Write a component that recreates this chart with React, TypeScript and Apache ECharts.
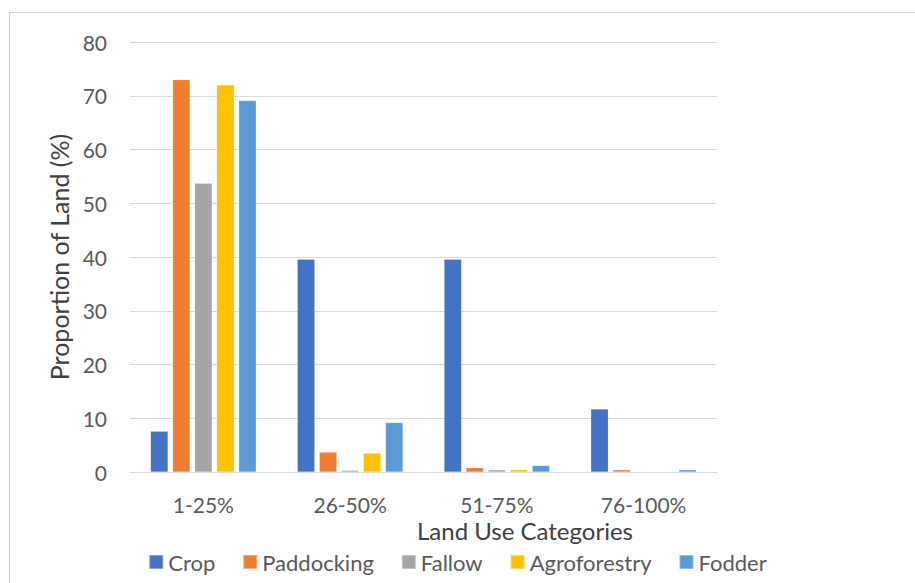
import React, { useEffect, useRef } from "react";
import * as echarts from "echarts";

// Share of each land-use type by proportion-of-land class
const categories = ["1-25%", "26-50%", "51-75%", "76-100%"];
const crop = [7.6, 39.6, 39.6, 11.7];
const paddocking = [73.0, 3.7, 0.8, 0.4];
const fallow = [53.7, 0.3, 0.4, 0];
const agroforestry = [72.0, 3.5, 0.4, 0];
const fodder = [69.1, 9.2, 1.2, 0.4];

const seriesDefs = [
  { name: "Crop", data: crop, color: "#4472C4" },
  { name: "Paddocking", data: paddocking, color: "#ED7D31" },
  { name: "Fallow", data: fallow, color: "#A5A5A5" },
  { name: "Agroforestry", data: agroforestry, color: "#FFC000" },
  { name: "Fodder", data: fodder, color: "#5B9BD5" },
];

const FONT = "Lato, 'Noto Sans', sans-serif";
const TEXT = "#595959";
const GRID = "#d9d9d9";

export default function App() {
  const ref = useRef<HTMLDivElement>(null);

  useEffect(() => {
    if (!ref.current) return;
    const chart = echarts.init(ref.current, undefined, { renderer: "svg" });
    chart.setOption({
      animation: false,
      backgroundColor: "#ffffff",
      textStyle: { fontFamily: FONT },
      grid: { left: 130, right: 198, top: 42, bottom: 111 },
      legend: {
        top: 546,
        left: "center",
        icon: "rect",
        itemWidth: 14,
        itemHeight: 14,
        itemGap: 27,
        textStyle: { fontFamily: FONT, fontSize: 22, color: TEXT },
        data: seriesDefs.map((s) => s.name),
      },
      xAxis: {
        type: "category",
        data: categories,
        axisLine: { lineStyle: { color: GRID, width: 1 } },
        axisTick: { show: false },
        axisLabel: { fontFamily: FONT, fontSize: 21, color: TEXT, margin: 22 },
      },
      yAxis: {
        type: "value",
        min: 0,
        max: 80,
        interval: 10,
        name: "Proportion of Land (%)",
        nameLocation: "middle",
        nameGap: 57,
        nameTextStyle: { fontFamily: FONT, fontSize: 25, color: "#404040" },
        axisLine: { show: false },
        axisTick: { show: false },
        splitLine: { lineStyle: { color: GRID, width: 1 } },
        axisLabel: { fontFamily: FONT, fontSize: 21, color: TEXT, margin: 23 },
      },
      graphic: [
        {
          type: "rect",
          shape: { x: 9.5, y: 12.5, width: 1000, height: 1000 },
          style: { fill: "none", stroke: "#d0d0d0", lineWidth: 1 },
          silent: true,
        },
        {
          type: "text",
          x: 525,
          y: 530,
          style: {
            text: "Land Use Categories",
            fontFamily: FONT,
            fontSize: 24,
            fill: "#404040",
            align: "center",
            verticalAlign: "middle",
          },
        },
      ],
      series: seriesDefs.map((s) => ({
        name: s.name,
        type: "bar",
        data: s.data,
        barGap: "26%",
        barCategoryGap: "28%",
        itemStyle: { color: s.color, borderColor: "rgba(255,255,255,0.35)", borderWidth: 0.5 },
      })),
    });
    return () => chart.dispose();
  }, []);

  return (
    <div
      ref={ref}
      style={{ position: "fixed", left: 0, top: 0, width: 915, height: 583 }}
    />
  );
}
